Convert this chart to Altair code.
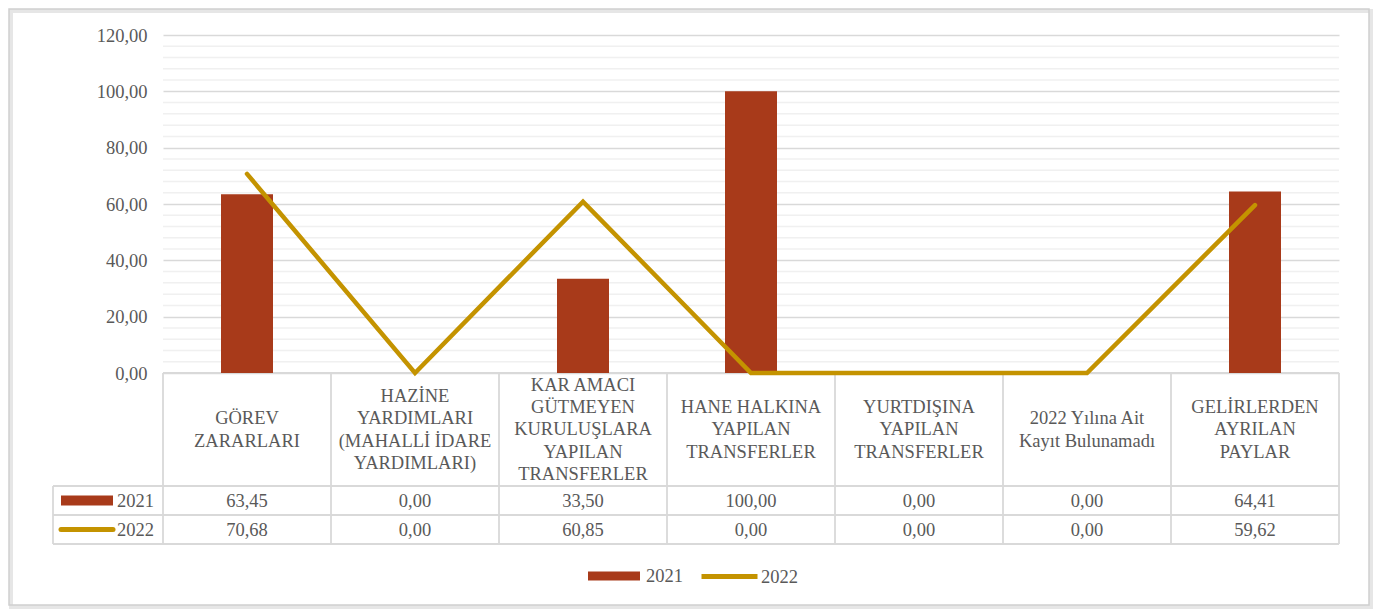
import altair as alt
import pandas as pd

# ---------------- data ----------------
categories = [
    "GÖREV\nZARARLARI",
    "HAZİNE\nYARDIMLARI\n(MAHALLİ İDARE\nYARDIMLARI)",
    "KAR AMACI\nGÜTMEYEN\nKURULUŞLARA\nYAPILAN\nTRANSFERLER",
    "HANE HALKINA\nYAPILAN\nTRANSFERLER",
    "YURTDIŞINA\nYAPILAN\nTRANSFERLER",
    "2022 Yılına Ait\nKayıt Bulunamadı",
    "GELİRLERDEN\nAYRILAN\nPAYLAR",
]
values_2021 = [63.45, 0.00, 33.50, 100.00, 0.00, 0.00, 64.41]
values_2022 = [70.68, 0.00, 60.85, 0.00, 0.00, 0.00, 59.62]
series = ["2021", "2022"]
series_colors = ["#A83A1A", "#C49300"]
y_ticks = [0, 20, 40, 60, 80, 100, 120]
minor_ticks = [4, 8, 12, 16, 24, 28, 32, 36, 44, 48, 52, 56, 64, 68, 72, 76,
               84, 88, 92, 96, 104, 108, 112, 116]

# ---------------- geometry (style) ----------------
FONT = "Liberation Serif"
FS = 18.5
LH = 22.3
TXT = "#595959"
GRID = "#d9d9d9"
N = len(categories)
PLOT_W = 1176
ABOVE_H = 338               # pixels from 0 to 120
PPU = ABOVE_H / 120.0       # pixels per y unit
HEADER_H = 113
ROW_H = 29
TABLE_H = HEADER_H + 2 * ROW_H
Y_MIN = -TABLE_H / PPU
TOTAL_H = ABOVE_H + TABLE_H
COL_PX = PLOT_W / N
LABEL_COL = -110 / COL_PX   # left key column in x units


def ybelow(px):
    return -px / PPU


df = pd.DataFrame({
    "idx": list(range(N)),
    "label": categories,
    "v2021": values_2021,
    "v2022": values_2022,
})
df["pos"] = df["idx"] + 0.5
df["nlines"] = df["label"].str.count("\n") + 1
df["hy"] = [ybelow(HEADER_H / 2 - (n - 1) * LH / 2) for n in df["nlines"]]

rows = []
for r, (s, vals) in enumerate(zip(series, [values_2021, values_2022])):
    for i, v in enumerate(vals):
        rows.append({"pos": i + 0.5, "value": v,
                     "ry": ybelow(HEADER_H + ROW_H * (r + 0.5))})
table_df = pd.DataFrame(rows)

keys_df = pd.DataFrame({
    "series": series,
    "color": series_colors,
    "ry": [ybelow(HEADER_H + ROW_H * 0.5), ybelow(HEADER_H + ROW_H * 1.5)],
    "x1": [-102 / COL_PX, -102 / COL_PX],
    "x2": [-50 / COL_PX, -50 / COL_PX],
    "tx": [-9 / COL_PX, -9 / COL_PX],
})

h_lines = pd.DataFrame({
    "x1": [0, LABEL_COL, LABEL_COL, LABEL_COL],
    "x2": [N, N, N, N],
    "y": [0, ybelow(HEADER_H), ybelow(HEADER_H + ROW_H), ybelow(TABLE_H)],
})
v_lines = pd.DataFrame({
    "x": list(range(N + 1)) + [LABEL_COL],
    "y1": [0] * (N + 1) + [ybelow(HEADER_H)],
    "y2": [ybelow(TABLE_H)] * (N + 2),
})
minor_df = pd.DataFrame({"v": minor_ticks})

xscale = alt.Scale(domain=[0, N], nice=False, zero=False, padding=0)
yscale = alt.Scale(domain=[Y_MIN, 120], nice=False, zero=False, padding=0)
fmt = "replace(format(datum.value, '.2f'), '.', ',')"
yaxis = alt.Axis(values=y_ticks, labelExpr=fmt, grid=True, gridColor=GRID,
                 gridWidth=1.5, domain=False, ticks=False, labelPadding=16,
                 labelFontSize=FS, labelFont=FONT, labelColor=TXT, title=None)


def X(f):
    return alt.X(f, scale=xscale, axis=None)


def Y(f):
    return alt.Y(f, scale=yscale, axis=yaxis)


minor = alt.Chart(minor_df).mark_rule(color="#f0f0f0", strokeWidth=1.5).encode(
    y=Y("v:Q"), x=alt.value(0), x2=alt.value(PLOT_W))

hl = alt.Chart(h_lines).mark_rule(color=GRID, strokeWidth=1.8).encode(
    x=X("x1:Q"), x2="x2:Q", y=Y("y:Q"))
vl = alt.Chart(v_lines).mark_rule(color=GRID, strokeWidth=1.8).encode(
    x=X("x:Q"), y=Y("y1:Q"), y2="y2:Q")

bars = alt.Chart(df).transform_calculate(s="'2021'").mark_bar(size=52).encode(
    x=X("pos:Q"), y=Y("v2021:Q"),
    fill=alt.Fill("s:N", scale=alt.Scale(domain=["2021"], range=[series_colors[0]]),
                  legend=alt.Legend(orient="none", legendX=425, legendY=515, title=None,
                                    symbolType="M-1,-0.17H1V0.17H-1Z", symbolSize=2704,
                                    symbolStrokeWidth=0, labelOffset=6,
                                    labelFont=FONT, labelFontSize=FS, labelColor=TXT)))

line = alt.Chart(df).transform_calculate(s="'2022'").mark_line(
    strokeWidth=4.5, strokeCap="round").encode(
    x=X("pos:Q"), y=Y("v2022:Q"),
    stroke=alt.Stroke("s:N", scale=alt.Scale(domain=["2022"], range=[series_colors[1]]),
                      legend=alt.Legend(orient="none", legendX=536, legendY=511, title=None,
                                        symbolType="stroke", symbolSize=3136,
                                        symbolStrokeWidth=5, labelOffset=1,
                                        labelFont=FONT, labelFontSize=FS, labelColor=TXT)))

headers = alt.Chart(df).mark_text(lineBreak="\n", baseline="middle", align="center",
                                  lineHeight=LH, font=FONT, fontSize=FS, color=TXT).encode(
    x=X("pos:Q"), y=Y("hy:Q"), text="label:N")

cells = alt.Chart(table_df).transform_calculate(txt=fmt).mark_text(
    baseline="middle", align="center", font=FONT, fontSize=FS, color=TXT).encode(
    x=X("pos:Q"), y=Y("ry:Q"), text="txt:N")

key_bar = alt.Chart(keys_df).transform_filter("datum.series == '2021'").mark_rule(
    strokeWidth=10, strokeCap="butt").encode(
    x=X("x1:Q"), x2="x2:Q", y=Y("ry:Q"), color=alt.Color("color:N", scale=None))
key_line = alt.Chart(keys_df).transform_filter("datum.series == '2022'").mark_rule(
    strokeWidth=5, strokeCap="round").encode(
    x=X("x1:Q"), x2="x2:Q", y=Y("ry:Q"), color=alt.Color("color:N", scale=None))
key_txt = alt.Chart(keys_df).mark_text(baseline="middle", align="right", font=FONT,
                                       fontSize=FS, color=TXT).encode(
    x=X("tx:Q"), y=Y("ry:Q"), text="series:N")

frame_df = pd.DataFrame({"f": [1]})
shadow = alt.Chart(frame_df).mark_rect(filled=False, stroke="#e6e6e6", strokeWidth=4).encode(
    x=alt.value(-152), x2=alt.value(1208), y=alt.value(-24), y2=alt.value(572))
frame = alt.Chart(frame_df).mark_rect(filled=False, stroke="#d0d0d0", strokeWidth=1.5).encode(
    x=alt.value(-154), x2=alt.value(1206), y=alt.value(-26), y2=alt.value(570))

chart = alt.layer(
    shadow, minor, hl, vl, bars, line, headers, cells, key_bar, key_line, key_txt, frame
).properties(width=PLOT_W, height=TOTAL_H, padding=0, background="white").configure_view(
    stroke=None)

chart.save("out.html", embed_options={"renderer": "svg", "actions": False})
